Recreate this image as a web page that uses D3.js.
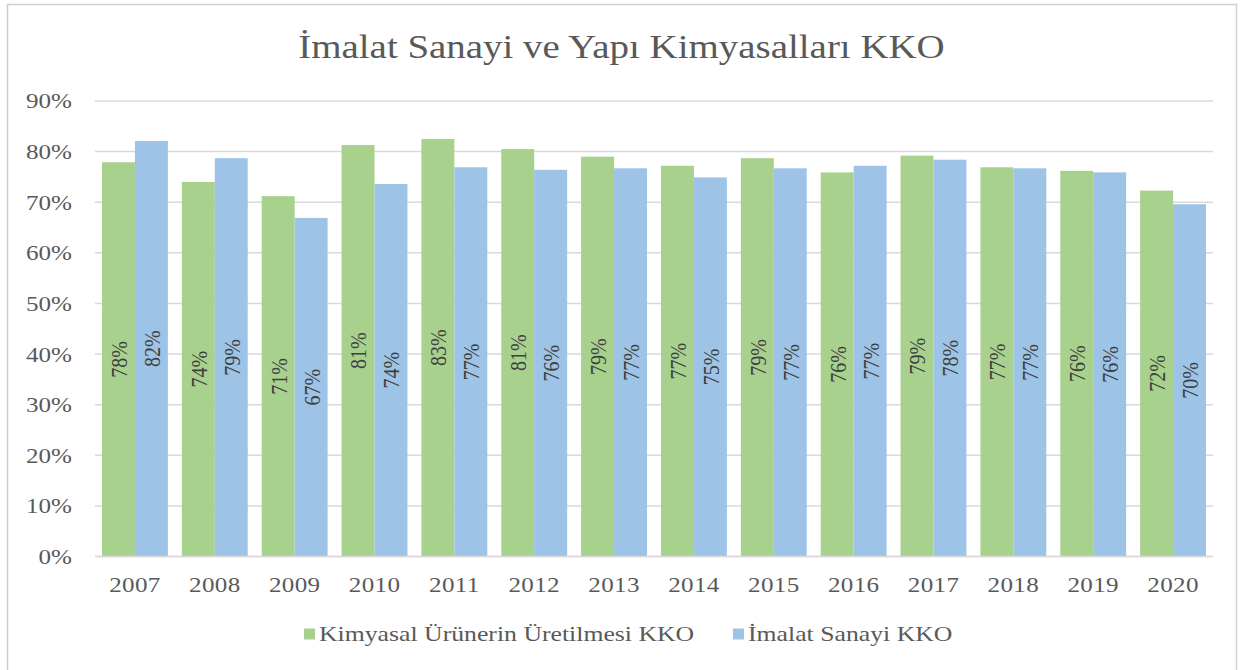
<!DOCTYPE html>
<html><head><meta charset="utf-8">
<script src="https://cdn.jsdelivr.net/npm/d3@7"></script>
<style>body{margin:0;background:#fff}svg{display:block}text{font-family:"Liberation Serif","Times New Roman",serif}</style>
</head><body><svg id="c" width="1244" height="670"></svg>
<script>
const years = ["2007","2008","2009","2010","2011","2012","2013","2014","2015","2016","2017","2018","2019","2020"];
const kimyasal = [77.9,74.0,71.2,81.3,82.5,80.5,79.0,77.2,78.7,75.9,79.2,76.9,76.2,72.3];
const imalat = [82.1,78.7,66.9,73.6,76.9,76.4,76.7,74.9,76.7,77.2,78.4,76.7,75.9,69.6];
const seriesNames = ["Kimyasal Ürünerin Üretilmesi KKO","İmalat Sanayi KKO"];
const seriesColors = ["#a9d18e","#9dc3e6"];
const yTicks = [0,10,20,30,40,50,60,70,80,90];
const title = "İmalat Sanayi ve Yapı Kimyasalları KKO";

const SX = 1.14; // horizontal stretch of the original picture
const svg = d3.select("#c");
svg.append("rect").attr("x",7.5).attr("y",4.5).attr("width",1229).attr("height",670).attr("fill","#fff").attr("stroke","#d0d0d0").attr("stroke-width",1.5);

const x0 = d3.scaleBand().domain(years).range([95,1213]).paddingInner(0.175).paddingOuter(0.0875);
const x1 = d3.scaleBand().domain([0,1]).range([0,x0.bandwidth()]);
const y = d3.scaleLinear().domain([0,90]).range([556.5,101]);

// gridlines
svg.append("g").selectAll("line").data(yTicks).join("line")
  .attr("x1",95).attr("x2",1213).attr("y1",d=>y(d)).attr("y2",d=>y(d))
  .attr("stroke","#d9d9d9").attr("stroke-width",1.5);

// y axis labels
svg.append("g").selectAll("text").data(yTicks).join("text")
  .attr("transform",d=>`translate(72,${y(d)}) scale(${SX},1)`)
  .attr("text-anchor","end").attr("dominant-baseline","central")
  .attr("font-size",22).attr("fill","#595959").text(d=>d+"%");

// x axis labels
svg.append("g").selectAll("text").data(years).join("text")
  .attr("transform",d=>`translate(${x0(d)+x0.bandwidth()/2},592) scale(${SX},1)`)
  .attr("text-anchor","middle").attr("font-size",22).attr("fill","#595959").attr("letter-spacing","0.3px").text(d=>d);

const data = years.map((yr,i)=>({yr, vals:[kimyasal[i], imalat[i]]}));
const groups = svg.append("g").selectAll("g").data(data).join("g").attr("transform",d=>`translate(${x0(d.yr)},0)`);
groups.selectAll("rect").data(d=>d.vals.map((v,k)=>({v,k}))).join("rect")
  .attr("x",d=>x1(d.k)).attr("width",x1.bandwidth())
  .attr("y",d=>y(d.v)).attr("height",d=>y(0)-y(d.v)).attr("fill",d=>seriesColors[d.k]);
groups.selectAll("text").data(d=>d.vals.map((v,k)=>({v,k}))).join("text")
  .attr("transform",d=>`translate(${x1(d.k)+x1.bandwidth()/2+1},${(y(d.v)+y(0))/2}) rotate(-90) scale(1,${SX})`)
  .attr("text-anchor","middle").attr("dominant-baseline","central")
  .attr("font-size",20).attr("fill","#404040")
  .text(d=>Math.round(d.v)+"%");

// baseline
svg.append("line").attr("x1",95).attr("x2",1213).attr("y1",y(0)).attr("y2",y(0)).attr("stroke","#d9d9d9").attr("stroke-width",1.5);

// title
svg.append("text").attr("transform",`translate(621.5,58) scale(1.18,1)`).attr("text-anchor","middle")
  .attr("font-size",33).attr("fill","#595959").text(title);

// legend
const legX = [304,733];
const lg = svg.append("g").selectAll("g").data(seriesNames).join("g")
  .attr("transform",(d,i)=>`translate(${legX[i]},634)`);
lg.append("rect").attr("x",0).attr("y",-5.5).attr("width",11).attr("height",11).attr("fill",(d,i)=>seriesColors[i]);
lg.append("text").attr("transform",`translate(15,0) scale(1.17,1)`).attr("dominant-baseline","central")
  .attr("font-size",22).attr("fill","#595959").text(d=>d);
</script></body></html>
